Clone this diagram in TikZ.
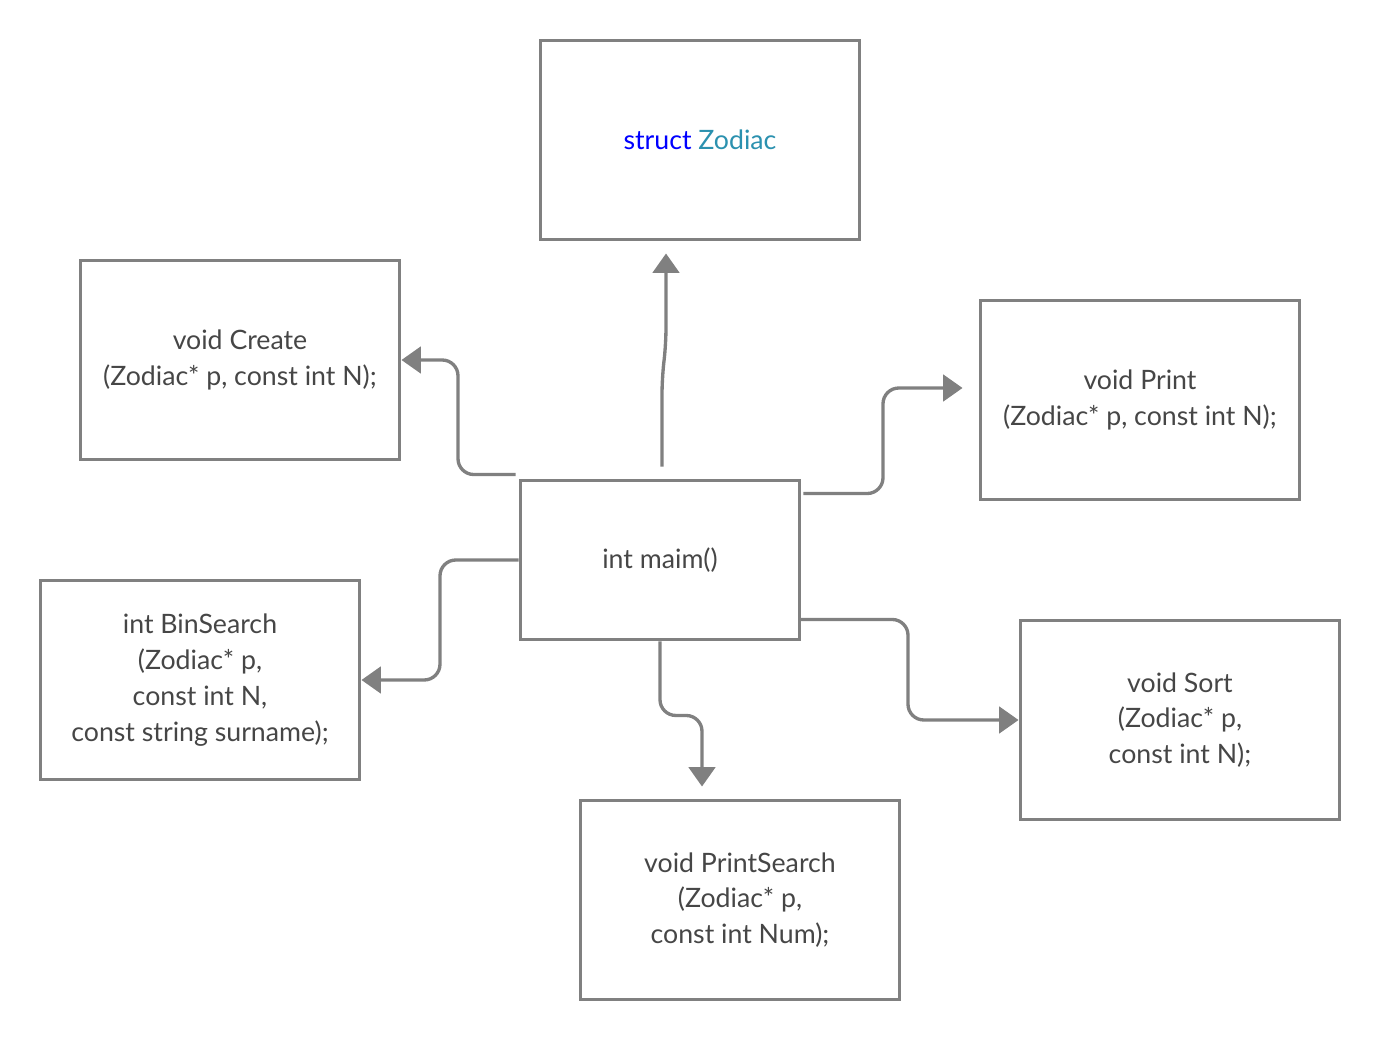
\documentclass[tikz,border=0pt]{standalone}
\usepackage{fontspec}
\setmainfont{Lato}
\usetikzlibrary{arrows.meta}
\definecolor{boxgray}{RGB}{128,128,128}
\definecolor{txtgray}{RGB}{70,70,70}
\definecolor{kwblue}{RGB}{0,0,255}
\definecolor{typeteal}{RGB}{43,145,175}

\begin{document}
\begin{tikzpicture}[
  x=0.02cm, y=-0.02cm,
  >={Triangle[length=11pt,width=15pt]},
  every node/.style={font=\fontsize{15.2}{20.4}\selectfont,text=txtgray},
  fn/.style={draw=boxgray,line width=1.7pt,minimum width=6.4cm,minimum height=4cm,align=center,inner sep=0pt},
  arc/.style={->,draw=boxgray,line width=1.9pt,rounded corners=9pt}
]
\useasboundingbox (0,0) rectangle (1380,1040);
\node[fn] (zod) at (700,140) {\textcolor{kwblue}{struct} \textcolor{typeteal}{Zodiac}};
\node[fn] (create) at (240,360) {void Create\\(Zodiac* p, const int N);};
\node[fn] (print) at (1140,400) {void Print\\(Zodiac* p, const int N);};
\node[fn,minimum width=5.6cm,minimum height=3.2cm] (main) at (660,560) {int maim()};
\node[fn] (bins) at (200,680) {int BinSearch\\(Zodiac* p,\\const int N,\\const string surname);};
\node[fn] (sort) at (1180,720) {void Sort\\(Zodiac* p,\\const int N);};
\node[fn] (psearch) at (740,900) {void PrintSearch\\(Zodiac* p,\\const int Num);};
\draw[arc] ([shift={(2,-12)}]main.north) -- ++(0,-88) -- ++(4,-35) -- ([shift={(-34,12)}]zod.south);
\draw[arc] ([shift={(-3,-4)}]main.north west) -| (458,418) |- (create.east);
\draw[arc] ([shift={(2,15)}]main.north east) -| (883,440) |- ([shift={(-16,-12)}]print.west);
\draw[arc] (main.west) -| (440,620) |- (bins.east);
\draw[arc] ([shift={(-3,-22)}]main.south east) -| (908,670) |- (sort.west);
\draw[arc] (main.south) -- ++(0,74) -| ([shift={(-38,-12)}]psearch.north);
\end{tikzpicture}
\end{document}
